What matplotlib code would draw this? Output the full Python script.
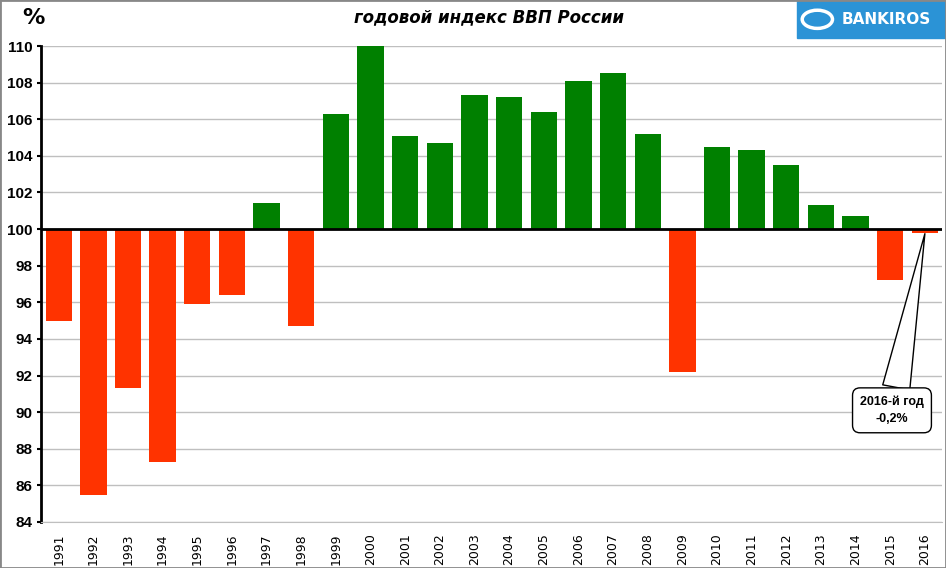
import numpy as np
import matplotlib.pyplot as plt
from matplotlib.patches import Rectangle, Circle

# data
years = [1991, 1992, 1993, 1994, 1995, 1996, 1997, 1998, 1999, 2000, 2001, 2002, 2003,
         2004, 2005, 2006, 2007, 2008, 2009, 2010, 2011, 2012, 2013, 2014, 2015, 2016]
gdp_index = [95.0, 85.5, 91.3, 87.3, 95.9, 96.4, 101.4, 94.7, 106.3, 110.0, 105.1, 104.7, 107.3,
             107.2, 106.4, 108.1, 108.5, 105.2, 92.2, 104.5, 104.3, 103.5, 101.3, 100.7, 97.2, 99.8]
y_ticks = list(range(84, 111, 2))

red = '#FF3300'
green = '#008000'

fig = plt.figure(figsize=(9.46, 5.68), dpi=100)
ax = fig.add_axes([0.043, 0.081, 0.953, 0.838])

x = np.arange(len(years))
vals = np.array(gdp_index)
colors = [green if v >= 100 else red for v in vals]
ax.bar(x, vals - 100, bottom=100, width=0.76, color=colors, zorder=2)

ax.set_xlim(-0.52, len(years) - 0.5)
ax.set_ylim(84, 110)
ax.set_yticks(y_ticks)
ax.set_yticklabels([str(t) for t in y_ticks], fontsize=11, fontweight='bold',
                   family='Liberation Sans')
ax.set_xticks(x)
ax.set_xticklabels([str(y) for y in years], rotation=90, fontsize=9)
ax.tick_params(axis='x', length=0, pad=8)
ax.tick_params(axis='y', length=3, width=1.5, direction='out', pad=3)

ax.grid(axis='y', color='#BFBFBF', linewidth=1, zorder=0)
ax.axhline(100, color='black', linewidth=2, zorder=3)
for s in ['top', 'right']:
    ax.spines[s].set_visible(False)
ax.spines['bottom'].set_color('#BFBFBF')
ax.spines['left'].set_linewidth(2)

# callout for 2016
ax.annotate('2016-й год\n-0,2%', xy=(x[-1], 99.75), xytext=(x[-1] - 0.95, 90.1),
            ha='center', va='center', fontsize=9, fontweight='bold', linespacing=1.6,
            family='Liberation Sans',
            bbox=dict(boxstyle='round,pad=0.6', fc='white', ec='black', lw=1),
            arrowprops=dict(arrowstyle='wedge,tail_width=2.2', fc='white', ec='black', lw=1,
                            shrinkA=0, shrinkB=0),
            zorder=5)

fig.text(0.024, 0.968, '%', fontsize=16, fontweight='bold', ha='left', va='center')
fig.text(0.517, 0.97, 'годовой индекс ВВП России', fontsize=12, fontweight='bold',
         fontstyle='italic', ha='center', va='center')

# logo box
fig.patches.append(Rectangle((0.843, 0.933), 0.157, 0.067, transform=fig.transFigure,
                             color='#2B93D6', zorder=5))
fig.patches.append(Circle((0.864, 0.966), 0.016, transform=fig.transFigure, fill=False,
                          ec='white', lw=2.5, zorder=6))
fig.text(0.937, 0.966, 'BANKIROS', color='white', fontsize=11, fontweight='bold',
         ha='center', va='center', zorder=7)

# outer frame
fig.patches.append(Rectangle((0, 0), 1, 1, transform=fig.transFigure, fill=False,
                             ec='#888888', lw=2, zorder=10))

fig.savefig('out.png', dpi=100)
